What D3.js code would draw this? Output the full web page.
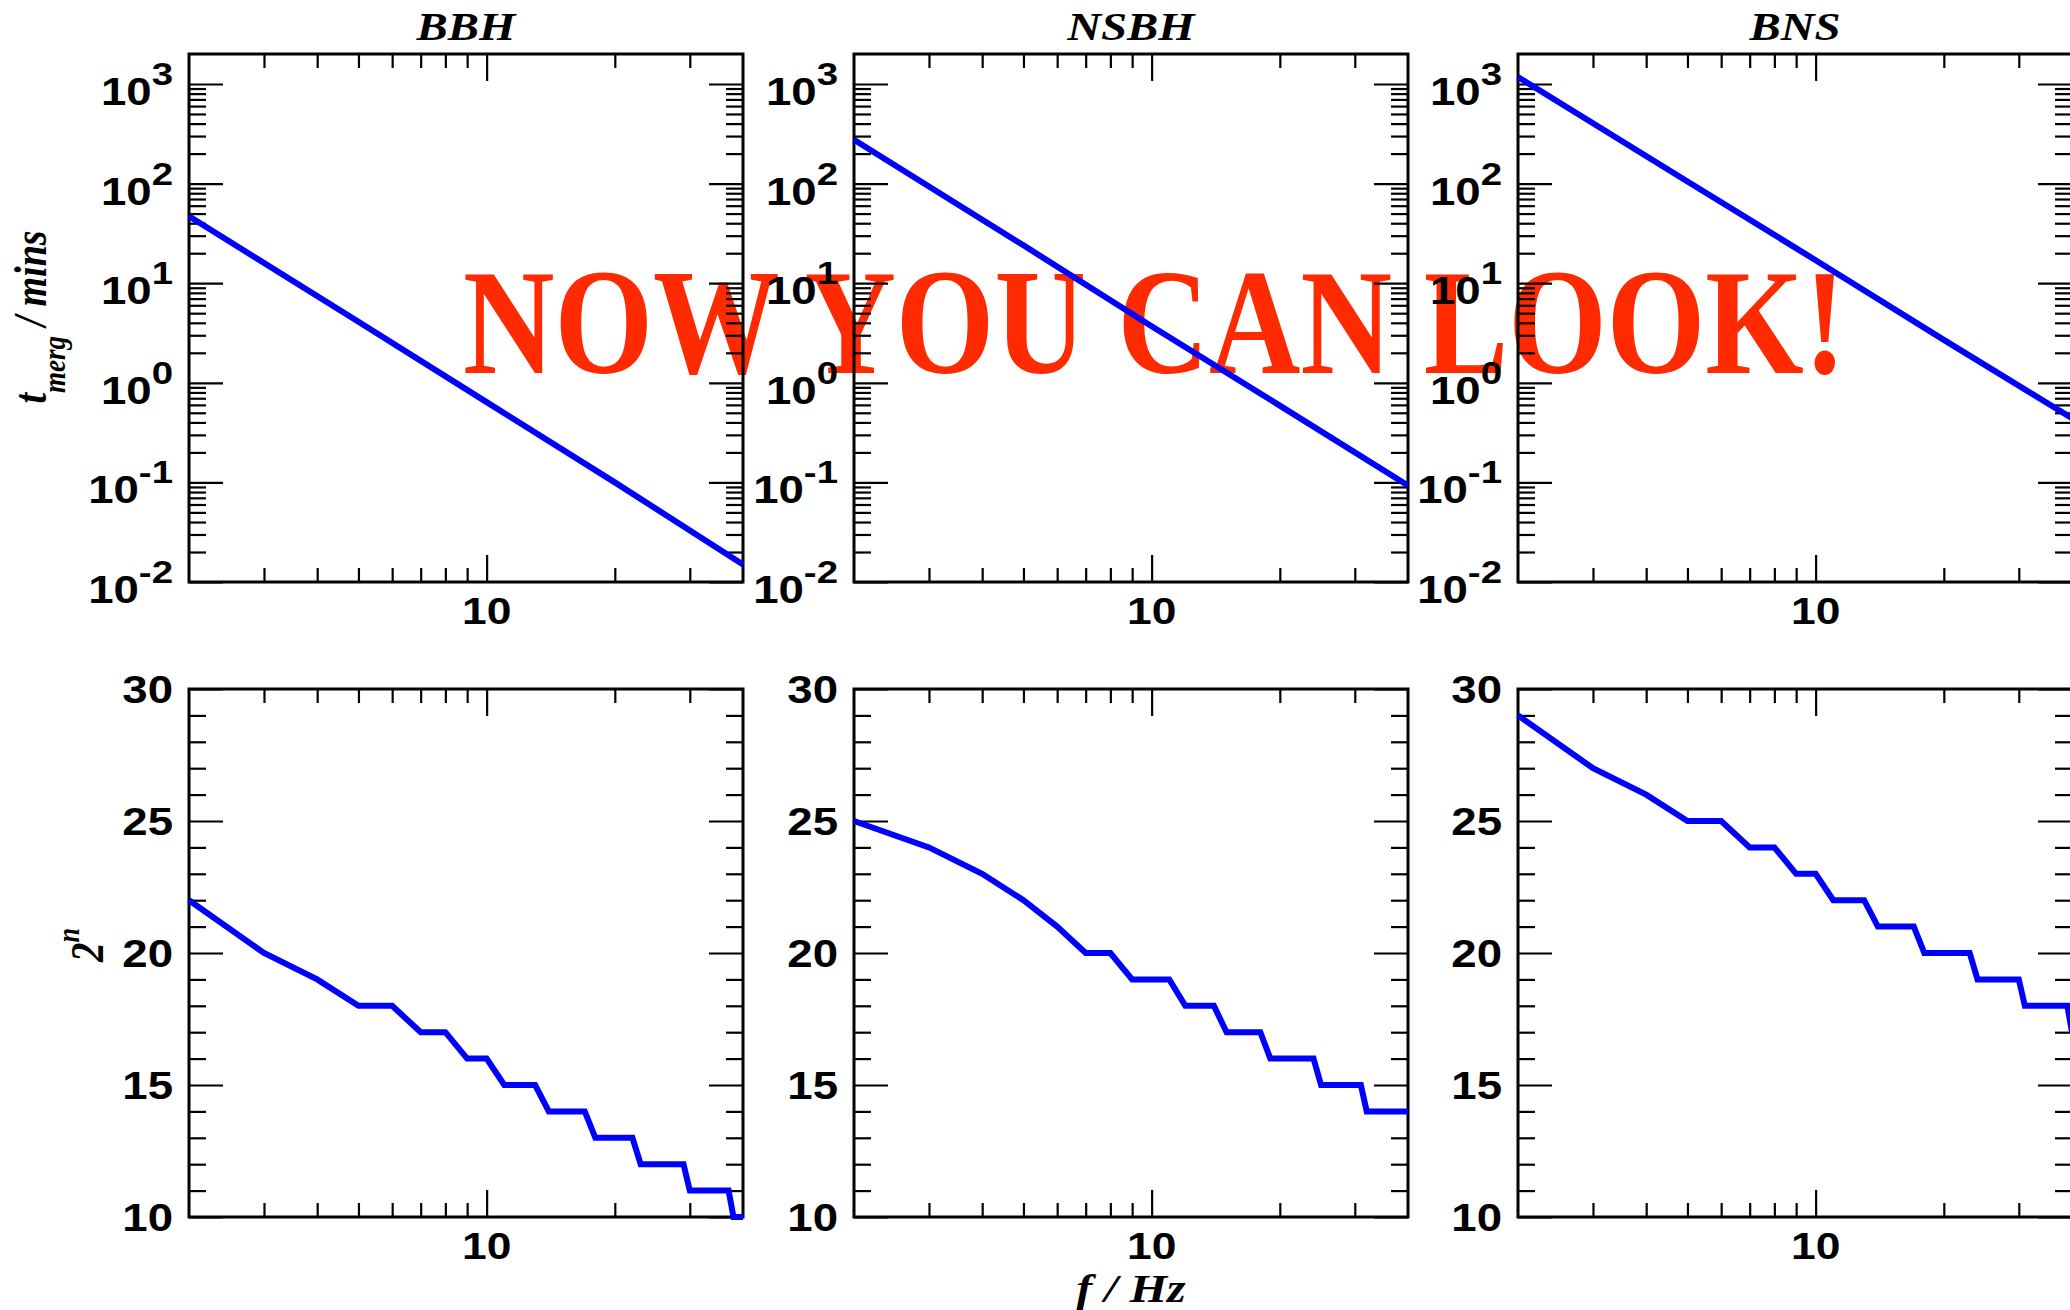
<!DOCTYPE html>
<html lang="en">
<head>
<meta charset="UTF-8">
<title>merger time and 2^n vs f</title>
<script src="https://cdn.jsdelivr.net/npm/d3@7"></script>
<style>
    body { margin: 0; padding: 0; overflow: hidden; background: #fff; }
    svg { display: block; }
    .sans { font-family: "Liberation Sans", Arimo, Arial, Helvetica, sans-serif; font-weight: bold; }
    .serif { font-family: "Liberation Serif", Tinos, "Times New Roman", Times, serif; font-weight: bold; font-style: italic; }
    .stamp { font-family: "Liberation Serif", Tinos, "Times New Roman", Times, serif; font-weight: bold; }
</style>
</head>
<body>
<svg id="demo" width="2070" height="1310"></svg>
<script>
// ---- data ----
var systems = ["BBH", "NSBH", "BNS"];

// top row: time to merger (mins) against f (Hz)
var fTime = [2, 5, 10, 20, 40];
var tMergeBBH = [47, 4.1, 0.64, 0.100, 0.0150];
var tMergeNSBH = [275, 24, 3.7, 0.59, 0.093];
var tMergeBNS = [1175, 105, 17, 2.7, 0.44];

// bottom row: n (for 2^n) at each integer f
var fStep = [2, 3, 4, 5, 6, 7, 8, 9, 10, 11, 12, 13, 14, 15, 16, 17, 18, 19, 20, 21,
    22, 23, 24, 25, 26, 27, 28, 29, 30, 31, 32, 33, 34, 35, 36, 37, 38, 39, 40];
var nBBH = [22, 20, 19, 18, 18, 17, 17, 16, 16, 15, 15, 15, 14, 14, 14, 14, 13, 13, 13, 13,
    13, 12, 12, 12, 12, 12, 12, 12, 11, 11, 11, 11, 11, 11, 11, 11, 10, 10, 10];
var nNSBH = [25, 24, 23, 22, 21, 20, 20, 19, 19, 19, 18, 18, 18, 17, 17, 17, 17, 16, 16, 16,
    16, 16, 16, 15, 15, 15, 15, 15, 15, 15, 14, 14, 14, 14, 14, 14, 14, 14, 14];
var nBNS = [29, 27, 26, 25, 25, 24, 24, 23, 23, 22, 22, 22, 21, 21, 21, 21, 20, 20, 20, 20,
    20, 20, 19, 19, 19, 19, 19, 19, 19, 18, 18, 18, 18, 18, 18, 18, 18, 18, 17];

// ticks
var xTickMajor = [10];
var xTickMinor = [3, 4, 5, 6, 7, 8, 9, 20, 30];
var tExponents = [-2, -1, 0, 1, 2, 3];
var nTickMajor = [10, 15, 20, 25, 30];

// ---- layout ----
var svg = d3.select("#demo");
var panelLeft = [189, 854, 1518];
var panelW = 554, panelH = 528;
var rowTop = [54, 689];
var SX = 1.2; // the original figure is stretched sideways

var tSeries = [tMergeBBH, tMergeNSBH, tMergeBNS];
var nSeries = [nBBH, nNSBH, nBNS];

// red overlay (sits under the axes)
svg.append("text")
    .attr("class", "stamp")
    .attr("x", 463).attr("y", 373)
    .attr("font-size", 151)
    .attr("fill", "#ff2a00")
    .attr("textLength", 1383)
    .attr("lengthAdjust", "spacingAndGlyphs")
    .text("NOW YOU CAN LOOK!");

function stretched(x, y) {
    return svg.append("g").attr("transform", "translate(" + x + "," + y + ") scale(" + SX + ",1)");
}

function addTicks(axis, tx, ty, values, len) {
    svg.append("g")
        .attr("transform", "translate(" + tx + "," + ty + ")")
        .call(axis.tickValues(values).tickSize(-len).tickFormat(""))
        .call(a => a.select(".domain").remove())
        .selectAll("line")
        .attr("stroke", "#000")
        .attr("stroke-width", 2.2);
}

function frame(x, y, top, yMajor, yMinor) {
    var left = x.range()[0], right = x.range()[1], bottom = top + panelH;
    addTicks(d3.axisBottom(x), 0, bottom, xTickMinor, 14);
    addTicks(d3.axisBottom(x), 0, bottom, xTickMajor, 27);
    addTicks(d3.axisTop(x), 0, top, xTickMinor, 14);
    addTicks(d3.axisTop(x), 0, top, xTickMajor, 27);
    addTicks(d3.axisLeft(y), left, 0, yMinor, 17);
    addTicks(d3.axisLeft(y), left, 0, yMajor, 34);
    addTicks(d3.axisRight(y), right, 0, yMinor, 17);
    addTicks(d3.axisRight(y), right, 0, yMajor, 34);
    svg.append("rect")
        .attr("x", left).attr("y", top)
        .attr("width", right - left).attr("height", panelH)
        .attr("fill", "none").attr("stroke", "#000").attr("stroke-width", 3);
    xTickMajor.forEach(v => {
        stretched(x(v), bottom).append("text")
            .attr("class", "sans")
            .attr("y", 42)
            .attr("text-anchor", "middle")
            .attr("font-size", 37)
            .text(v);
    });
}

var logMajor = tExponents.map(e => Math.pow(10, e));
var logMinor = [];
tExponents.forEach(e => {
    for (var m = 2; m <= 9; m++) {
        var v = m * Math.pow(10, e);
        if (v < 2000) logMinor.push(v);
    }
});
var linMinor = d3.range(11, 30).filter(v => nTickMajor.indexOf(v) < 0);

systems.forEach((name, i) => {
    var x0 = panelLeft[i];
    var x = d3.scaleLog().domain([2, 40]).range([x0, x0 + panelW]);
    var yT = d3.scaleLog().domain([0.01, 2000]).range([rowTop[0] + panelH, rowTop[0]]);
    var yN = d3.scaleLinear().domain([10, 30]).range([rowTop[1] + panelH, rowTop[1]]);

    // title
    stretched(x0 + panelW / 2, 40).append("text")
        .attr("class", "serif")
        .attr("text-anchor", "middle")
        .attr("font-size", 39)
        .text(name);

    // top row
    frame(x, yT, rowTop[0], logMajor, logMinor);
    tExponents.forEach(e => {
        var t = stretched(x0 - 16, yT(Math.pow(10, e))).append("text")
            .attr("class", "sans")
            .attr("text-anchor", "end");
        t.append("tspan").attr("dy", 21).attr("font-size", 38).text("10");
        t.append("tspan").attr("dy", -20).attr("font-size", 32).text(e);
    });

    // bottom row
    frame(x, yN, rowTop[1], nTickMajor, linMinor);
    nTickMajor.forEach(v => {
        stretched(x0 - 16, yN(v)).append("text")
            .attr("class", "sans")
            .attr("text-anchor", "end").attr("dy", "0.36em")
            .attr("font-size", 38)
            .text(v);
    });

    // lines
    var tLine = d3.line().x(d => x(d[0])).y(d => yT(d[1]));
    svg.append("path")
        .attr("d", tLine(d3.zip(fTime, tSeries[i])))
        .attr("fill", "none").attr("stroke", "#0000ff").attr("stroke-width", 6);

    var nLine = d3.line().x(d => x(d[0])).y(d => yN(d[1]));
    svg.append("path")
        .attr("d", nLine(d3.zip(fStep, nSeries[i])))
        .attr("fill", "none").attr("stroke", "#0000ff").attr("stroke-width", 6);
});

// y labels
var yl1 = svg.append("g")
    .attr("transform", "translate(46,317) scale(" + SX + ",1) rotate(-90)")
    .append("text")
    .attr("class", "serif")
    .attr("text-anchor", "middle")
    .attr("font-size", 38);
yl1.append("tspan").text("t");
yl1.append("tspan").attr("dy", 16).attr("font-size", 27).text("merg");
yl1.append("tspan").attr("dy", -16).text(" / mins");

var yl2 = svg.append("g")
    .attr("transform", "translate(103,945) scale(" + SX + ",1) rotate(-90)")
    .append("text")
    .attr("class", "serif")
    .attr("text-anchor", "middle")
    .attr("font-size", 39);
yl2.append("tspan").text("2");
yl2.append("tspan").attr("dy", -20).attr("font-size", 26).text("n");

// x label
stretched(1131, 1302).append("text")
    .attr("class", "serif")
    .attr("text-anchor", "middle")
    .attr("font-size", 40)
    .text("f / Hz");
</script>
</body>
</html>
